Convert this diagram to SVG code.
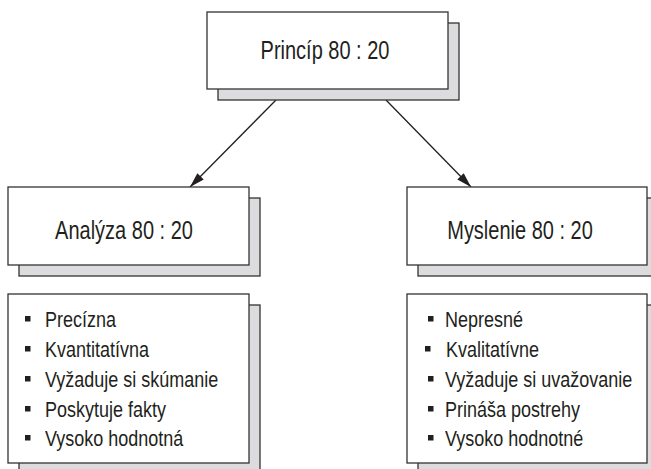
<svg xmlns="http://www.w3.org/2000/svg" width="651" height="469" viewBox="0 0 651 469">
<defs>
<style>
.shadow{fill:#dcdcde;stroke:#333;stroke-width:1.3}
.box{fill:#fff;stroke:#333;stroke-width:1.3}
.h{font-family:"Liberation Sans",Arial,sans-serif;font-size:25px;fill:#231f20;text-anchor:middle}
.li{font-family:"Liberation Sans",Arial,sans-serif;font-size:22.5px;fill:#231f20}
.b{fill:#231f20}
.conn{stroke:#231f20;stroke-width:1.3;fill:none;marker-end:url(#ah)}
</style>
<marker id="ah" markerWidth="16" markerHeight="10" refX="15" refY="5" orient="auto" markerUnits="userSpaceOnUse">
<path d="M0,0.5 L15,5 L0,9.5 Z" fill="#231f20"/>
</marker>
</defs>
<rect width="651" height="469" fill="#fff"/>
<g id="connectors">
<line class="conn" x1="276" y1="100" x2="190" y2="187"/>
<line class="conn" x1="386" y1="100" x2="471" y2="187"/>
</g>
<g id="princip">
<rect class="shadow" x="218" y="23" width="241" height="77"/>
<rect class="box" x="207" y="12" width="241" height="77"/>
<text class="h" transform="translate(325,59) scale(0.8,1)">Princíp 80 : 20</text>
</g>
<g id="analyza">
<rect class="shadow" x="19" y="198" width="241" height="78"/>
<rect class="box" x="8" y="187" width="241" height="78"/>
<text class="h" transform="translate(124,239) scale(0.8,1)">Analýza 80 : 20</text>
</g>
<g id="myslenie">
<rect class="shadow" x="418" y="198" width="241" height="78"/>
<rect class="box" x="407" y="187" width="240" height="78"/>
<text class="h" transform="translate(520,239) scale(0.8,1)">Myslenie 80 : 20</text>
</g>
<g id="analyza-list">
<rect class="shadow" x="19" y="305" width="241" height="170"/>
<rect class="box" x="8" y="294" width="241" height="169"/>
<rect class="b" x="25" y="316" width="5.5" height="5.5"/>
<rect class="b" x="25" y="346" width="5.5" height="5.5"/>
<rect class="b" x="25" y="376" width="5.5" height="5.5"/>
<rect class="b" x="25" y="406" width="5.5" height="5.5"/>
<rect class="b" x="25" y="435" width="5.5" height="5.5"/>
<text class="li" transform="translate(45,327) scale(0.8,1)">Precízna</text>
<text class="li" transform="translate(45,357) scale(0.8,1)">Kvantitatívna</text>
<text class="li" transform="translate(45,387) scale(0.8,1)">Vyžaduje si skúmanie</text>
<text class="li" transform="translate(45,417) scale(0.8,1)">Poskytuje fakty</text>
<text class="li" transform="translate(45,446) scale(0.8,1)">Vysoko hodnotná</text>
</g>
<g id="myslenie-list">
<rect class="shadow" x="418" y="305" width="241" height="170"/>
<rect class="box" x="407" y="294" width="240" height="169"/>
<rect class="b" x="428" y="316" width="5.5" height="5.5"/>
<rect class="b" x="425" y="346" width="5.5" height="5.5"/>
<rect class="b" x="428" y="376" width="5.5" height="5.5"/>
<rect class="b" x="428" y="406" width="5.5" height="5.5"/>
<rect class="b" x="428" y="435" width="5.5" height="5.5"/>
<text class="li" transform="translate(445,327) scale(0.8,1)">Nepresné</text>
<text class="li" transform="translate(446,357) scale(0.8,1)">Kvalitatívne</text>
<text class="li" transform="translate(445,387) scale(0.8,1)">Vyžaduje si uvažovanie</text>
<text class="li" transform="translate(445,417) scale(0.8,1)">Prináša postrehy</text>
<text class="li" transform="translate(445,446) scale(0.8,1)">Vysoko hodnotné</text>
</g>
</svg>
